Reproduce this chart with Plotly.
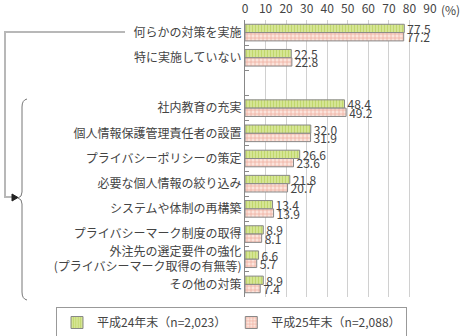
import plotly.graph_objects as go

categories = [
    "何らかの対策を実施",
    "特に実施していない",
    " ",
    "社内教育の充実",
    "個人情報保護管理責任者の設置",
    "プライバシーポリシーの策定",
    "必要な個人情報の絞り込み",
    "システムや体制の再構築",
    "プライバシーマーク制度の取得",
    "外注先の選定要件の強化<br>(プライバシーマーク取得の有無等)",
    "その他の対策",
]
h24 = [77.5, 22.5, None, 48.4, 32.0, 26.6, 21.8, 13.4, 8.9, 6.6, 8.9]
h25 = [77.2, 22.8, None, 49.2, 31.9, 23.6, 20.7, 13.9, 8.1, 5.7, 7.4]
series_names = ["平成24年末（n=2,023）", "平成25年末（n=2,088）"]
x_ticks = [0, 10, 20, 30, 40, 50, 60, 70, 80, 90]

FONT = "Noto Sans CJK JP"
TXT = "#444444"

def fmt(vals):
    return [("" if v is None else f"{v:.1f}") for v in vals]

fig = go.Figure()
fig.add_trace(go.Bar(
    y=categories, x=h24, orientation="h", name=series_names[0],
    text=fmt(h24), textposition="outside", cliponaxis=False,
    textfont=dict(size=12, color=TXT, family=FONT),
    marker=dict(color="#dbe9a0", line=dict(color="#888888", width=1),
                pattern=dict(shape="|", fgcolor="#a8c63a", size=3, solidity=0.5, fillmode="overlay")),
))
fig.add_trace(go.Bar(
    y=categories, x=h25, orientation="h", name=series_names[1],
    text=fmt(h25), textposition="outside", cliponaxis=False,
    textfont=dict(size=12, color=TXT, family=FONT),
    marker=dict(color="#fbe4dc", line=dict(color="#888888", width=1),
                pattern=dict(shape="+", fgcolor="#e37a62", size=4, solidity=0.35, fillmode="overlay")),
))

# pixel geometry helpers for decorative bracket
L, R, T, B = 245, 430, 20, 297
W, H = 463, 336

def px(x):
    return (x - L) / (R - L)

def py(y):
    return (B - y) / (B - T)

shapes = []
line_path = f"M {px(125)},{py(32)} L {px(5)},{py(32)} L {px(5)},{py(197)} L {px(14)},{py(197)}"
shapes.append(dict(type="path", xref="paper", yref="paper", path=line_path,
                   line=dict(color="#b8b8b8", width=2)))
arrow_path = f"M {px(12)},{py(194)} L {px(18)},{py(197.5)} L {px(12)},{py(201)} Z"
shapes.append(dict(type="path", xref="paper", yref="paper", path=arrow_path,
                   fillcolor="#222222", line=dict(color="#222222", width=1)))
brace = (f"M {px(27)},{py(99)} Q {px(22)},{py(100)} {px(22)},{py(107)} "
         f"L {px(22)},{py(192)} Q {px(22)},{py(197)} {px(18)},{py(198)} "
         f"Q {px(22)},{py(199)} {px(22)},{py(204)} "
         f"L {px(22)},{py(292)} Q {px(22)},{py(299)} {px(27)},{py(300)}")
shapes.append(dict(type="path", xref="paper", yref="paper", path=brace,
                   line=dict(color="#777777", width=1)))

fig.update_layout(
    width=W, height=H,
    margin=dict(l=L, r=W - R, t=T, b=H - B, autoexpand=False),
    paper_bgcolor="white", plot_bgcolor="white",
    font=dict(family=FONT, size=12, color=TXT),
    barmode="group", bargap=0.34, bargroupgap=0.0,
    showlegend=True,
    legend=dict(orientation="h", xref="paper", yref="paper",
                x=px(56), xanchor="left", y=py(307), yanchor="top",
                bordercolor="#999999", borderwidth=1,
                itemwidth=30,
                font=dict(size=12, color=TXT, family=FONT),
                tracegroupgap=0),
    shapes=shapes,
    annotations=[dict(text="(%)", xref="paper", yref="paper",
                      x=px(450), y=py(10), xanchor="center", yanchor="middle",
                      showarrow=False,
                      font=dict(size=12, color=TXT, family=FONT))],
)
fig.update_traces(constraintext="none")
fig.update_xaxes(side="top", range=[0, 90], tickvals=x_ticks,
                 showgrid=True, gridcolor="#d0d0d0", gridwidth=1,
                 zeroline=False, showline=False, ticks="", fixedrange=True,
                 ticklabelstandoff=4,
                 tickfont=dict(size=12, color=TXT, family=FONT))
fig.update_yaxes(autorange="reversed", categoryorder="array", categoryarray=categories,
                 showline=True, linecolor="#888888", linewidth=1,
                 ticks="inside", tickson="boundaries", ticklen=4, tickcolor="#888888",
                 showgrid=False, fixedrange=True,
                 tickfont=dict(size=12, color=TXT, family=FONT))

fig.write_html("out.html")
